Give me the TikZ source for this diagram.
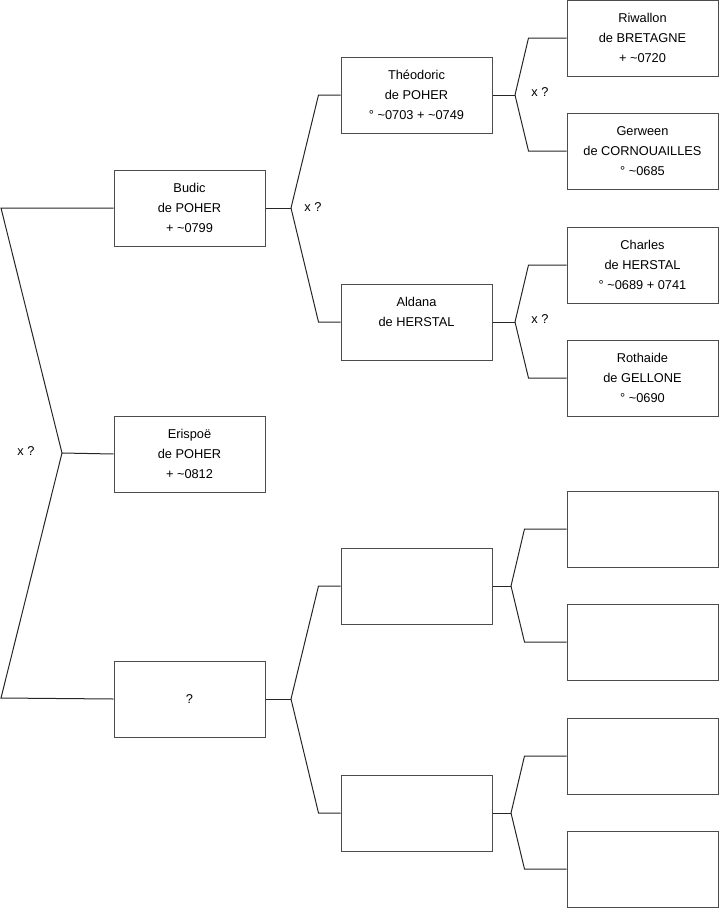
\documentclass[tikz,border=0pt]{standalone}
\usepackage{fontspec}
\setmainfont{Liberation Sans}
\usepackage{tikz}
\usetikzlibrary{positioning}
\newcommand{\apx}{\textasciitilde}

\begin{document}
\begin{tikzpicture}[x=0.75pt, y=-0.75pt,
  box/.style={rectangle, draw=black!70, line width=0.75pt, fill=white,
              minimum width=113.25pt, minimum height=57pt, inner sep=0pt,
              align=center, font=\fontsize{9.6}{15}\selectfont},
  link/.style={line width=0.75pt, black!85},
  xlabel/.style={font=\fontsize{9.6}{15}\selectfont},
]
  \useasboundingbox (0,0) rectangle (719,908);

  % first column
  \node[box] (budic) at (189.5,208) {Budic\\de POHER\\+ \apx0799};
  \node[box] (erispoe) at (189.5,454) {Erispoë\\de POHER\\+ \apx0812};
  \node[box] (unknown) at (189.5,699) {?};

  % second column
  \node[box] (theodoric) at (416.5,95) {Théodoric\\de POHER\\° \apx0703 + \apx0749};
  \node[box] (aldana) at (416.5,322) {Aldana\\de HERSTAL\\\mbox{}};
  \node[box] (emptya) at (416.5,586) {};
  \node[box] (emptyb) at (416.5,813) {};

  % third column
  \node[box] (riwallon) at (642.5,38) {Riwallon\\de BRETAGNE\\+ \apx0720};
  \node[box] (gerween) at (642.5,151) {Gerween\\de CORNOUAILLES\\° \apx0685};
  \node[box] (charles) at (642.5,265) {Charles\\de HERSTAL\\° \apx0689 + 0741};
  \node[box] (rothaide) at (642.5,378) {Rothaide\\de GELLONE\\° \apx0690};
  \node[box] (emptyc) at (642.5,529) {};
  \node[box] (emptyd) at (642.5,642) {};
  \node[box] (emptye) at (642.5,756) {};
  \node[box] (emptyf) at (642.5,869) {};

  % junctions
  \coordinate (topend) at (1,208);
  \coordinate (botend) at (1,698);
  \coordinate (jroot) at (62,453);
  \coordinate (jbudic) at (291,208);
  \coordinate (junknown) at (291,699);
  \coordinate (jtheo) at (515,95);
  \coordinate (jaldana) at (515,322);
  \coordinate (jemptya) at (511,586);
  \coordinate (jemptyb) at (511,813);

  \draw[link] (budic.west) -- (topend) -- (jroot) -- (botend) -- (unknown.west);
  \draw[link] (jroot) -- (erispoe.west);

  \draw[link] (budic.east) -- (jbudic);
  \draw[link] (theodoric.west) -- ++(-22,0) -- (jbudic);
  \draw[link] (aldana.west) -- ++(-22,0) -- (jbudic);
  \draw[link] (unknown.east) -- (junknown);
  \draw[link] (emptya.west) -- ++(-22,0) -- (junknown);
  \draw[link] (emptyb.west) -- ++(-22,0) -- (junknown);

  \draw[link] (theodoric.east) -- (jtheo);
  \draw[link] (riwallon.west) -- ++(-38,0) -- (jtheo);
  \draw[link] (gerween.west) -- ++(-38,0) -- (jtheo);
  \draw[link] (aldana.east) -- (jaldana);
  \draw[link] (charles.west) -- ++(-38,0) -- (jaldana);
  \draw[link] (rothaide.west) -- ++(-38,0) -- (jaldana);
  \draw[link] (emptya.east) -- (jemptya);
  \draw[link] (emptyc.west) -- ++(-42,0) -- (jemptya);
  \draw[link] (emptyd.west) -- ++(-42,0) -- (jemptya);
  \draw[link] (emptyb.east) -- (jemptyb);
  \draw[link] (emptye.west) -- ++(-42,0) -- (jemptyb);
  \draw[link] (emptyf.west) -- ++(-42,0) -- (jemptyb);

  % marriage marks
  \node[xlabel] (xroot) at (26,451) {x ?};
  \node[xlabel] (xbudic) at (313,207) {x ?};
  \node[xlabel] (xtheo) at (540,92) {x ?};
  \node[xlabel] (xaldana) at (540,319) {x ?};
\end{tikzpicture}
\end{document}
